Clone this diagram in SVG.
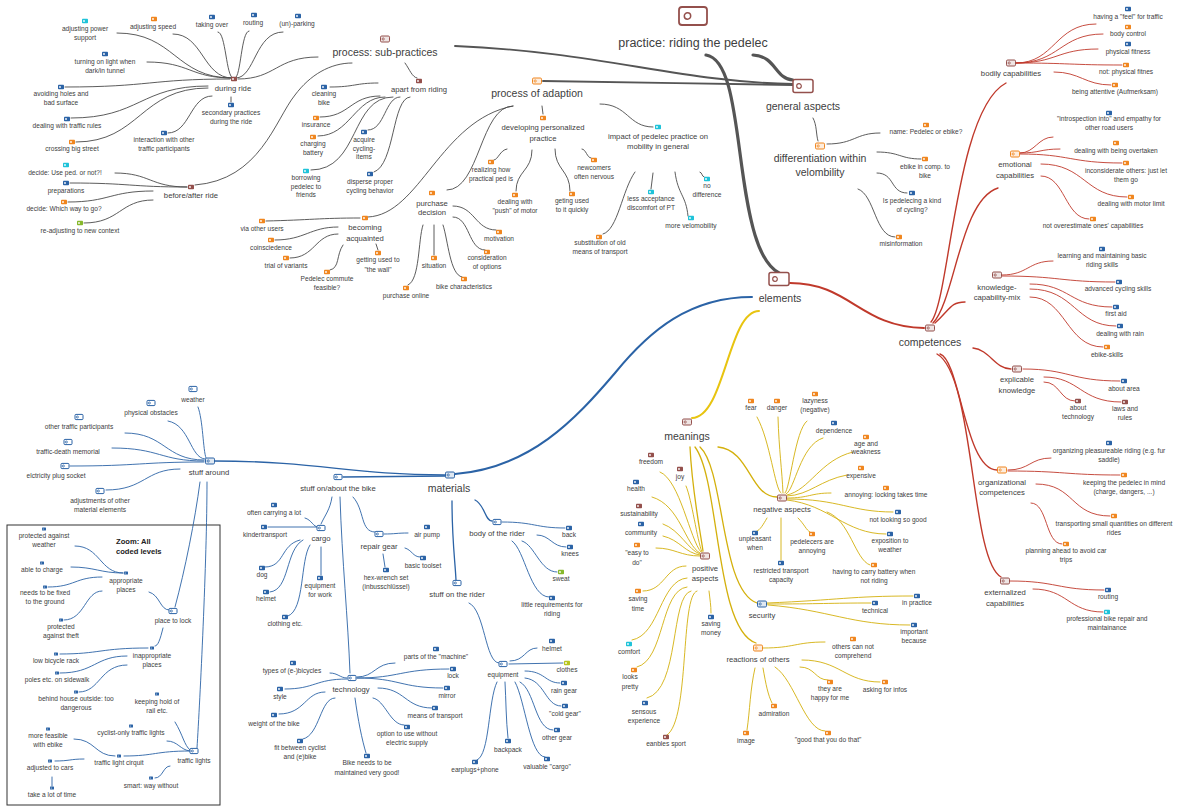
<svg xmlns="http://www.w3.org/2000/svg" width="1178" height="807" viewBox="0 0 1178 807">
<style>
text{font-family:"Liberation Sans",Arial,sans-serif;font-size:6.6px;fill:#404040;text-anchor:middle}
.m{font-size:7.7px}.h{font-size:10.5px}.t{font-size:12.5px}
.z{font-size:7.6px;font-weight:bold;text-anchor:start;fill:#222}
.B{color:#2b63a6}.O{color:#f0861f}.C{color:#1fc3d9}.G{color:#86b82c}.M{color:#94504c}.Y{color:#b8c41e}
#connectors path{fill:none;stroke-linecap:round}
.g1{stroke:#4a4a4a;stroke-width:.9}.g2{stroke:#555;stroke-width:1.9}.g3{stroke:#555;stroke-width:3.2}
.r1{stroke:#c0392b;stroke-width:.9}.r15{stroke:#c0392b;stroke-width:1.4}.r2{stroke:#c0392b;stroke-width:2}
.y1{stroke:#d4b00c;stroke-width:.9}.y15{stroke:#d4b00c;stroke-width:1.3}.y2{stroke:#e8c410;stroke-width:2}
.b1{stroke:#2b63a6;stroke-width:.9}.b15{stroke:#2b63a6;stroke-width:1.3}.b2{stroke:#2b63a6;stroke-width:2}
</style>
<defs>
<g id="i"><rect x="-3" y="-2.2" width="6" height="4.4" rx="0.8" fill="currentColor"/><rect x="-1.9" y="-0.9" width="1.8" height="1.8" rx="0.9" fill="#fff"/></g>
<g id="d"><rect x="-2" y="-1.5" width="4" height="3" rx="0.5" fill="currentColor"/><circle cx="-0.8" cy="0" r="0.5" fill="#fff"/></g>
<g id="o"><rect x="-4.5" y="-3" width="9" height="6" rx="1.2" fill="#fff"/><rect x="-4.5" y="-3" width="9" height="6" rx="1.2" fill="currentColor" fill-opacity="0.15" stroke="currentColor" stroke-width="1"/><circle cx="-1.8" cy="0" r="1.1" fill="none" stroke="currentColor" stroke-width="0.8"/></g>
<g id="p"><rect x="-4" y="-2.6" width="8" height="5.2" rx="1" fill="#fff" stroke="currentColor" stroke-width="1"/><circle cx="-1.6" cy="0" r="1" fill="none" stroke="currentColor" stroke-width="0.8"/></g>
<g id="L"><rect x="-10" y="-6.5" width="20" height="13" rx="2" fill="#fff" stroke="currentColor" stroke-width="1.5"/><circle cx="-4" cy="0" r="2.3" fill="none" stroke="currentColor" stroke-width="1.2"/></g>
<g id="T"><rect x="-14" y="-9" width="28" height="18" rx="3" fill="#fff" stroke="currentColor" stroke-width="1.8"/><circle cx="-5.5" cy="0" r="3.2" fill="none" stroke="currentColor" stroke-width="1.5"/></g>
</defs>
<rect width="1178" height="807" fill="#fff"/>
<rect x="7" y="525" width="213" height="280" fill="none" stroke="#333" stroke-width="1"/>

<g id="connectors">
<path class="g3" d="M706 55C740 60 735 170 755 235C762 258 770 268 779 273"/>
<path class="g3" d="M753 55C776 56 775 79 793 80"/>
<path class="g2" d="M455 46C600 52 680 82 793 84"/>
<path class="g2" d="M543 81C640 82 700 84 793 85"/>
<path class="g1" d="M318 57C276 57 276 79 238 79"/>
<path class="g1" d="M195 185C260 180 275 120 295 95C310 75 330 63 352 63"/>
<path class="g1" d="M405 63C410 70 412 77 417 78"/>
<path class="g1" d="M117 33C175 33 175 78 232 78"/>
<path class="g1" d="M173 34C203 34 203 78 232 78"/>
<path class="g1" d="M218 32C226 32 226 78 233 78"/>
<path class="g1" d="M249 31C241 31 241 78 235 78"/>
<path class="g1" d="M283 32C255 32 255 78 236 78"/>
<path class="g1" d="M147 62C190 62 190 78 232 78"/>
<path class="g1" d="M65 87C150 87 150 79 230 79"/>
<path class="g1" d="M71 118C140 118 140 86 208 86"/>
<path class="g1" d="M76 142C140 142 140 88 208 88"/>
<path class="g1" d="M168 133C190 133 190 96 212 96"/>
<path class="g1" d="M231 97L231 102"/>
<path class="g1" d="M115 173C150 173 150 187 187 187"/>
<path class="g1" d="M70 183C130 183 130 187 187 187"/>
<path class="g1" d="M68 202C110 202 110 191 153 191"/>
<path class="g1" d="M84 223C120 223 120 200 153 200"/>
<path class="g1" d="M330 87C355 87 355 83 378 83"/>
<path class="g1" d="M320 117C350 117 350 96 380 96"/>
<path class="g1" d="M318 136C350 136 355 97 385 97"/>
<path class="g1" d="M311 170C360 170 350 97 393 97"/>
<path class="g1" d="M368 130C385 130 385 97 400 97"/>
<path class="g1" d="M374 172C395 165 392 98 410 97"/>
<path class="g1" d="M542 106L543 114"/>
<path class="g1" d="M600 104C628 104 628 127 653 127"/>
<path class="g1" d="M447 190C480 190 480 106 513 106"/>
<path class="g1" d="M368 217C420 215 440 120 513 106"/>
<path class="g1" d="M507 149C500 150 498 160 494 160"/>
<path class="g1" d="M532 150C532 171 516 171 516 191"/>
<path class="g1" d="M555 149C555 170 570 170 570 191"/>
<path class="g1" d="M582 149C586 149 587 158 591 158"/>
<path class="g1" d="M653 173L651 189"/>
<path class="g1" d="M700 172C702 172 702 177 704 177"/>
<path class="g1" d="M675 172C678 195 686 195 688 216"/>
<path class="g1" d="M635 172C622 190 618 230 603 234"/>
<path class="g1" d="M453 206C475 206 475 230 496 230"/>
<path class="g1" d="M453 217C470 217 468 250 485 250"/>
<path class="g1" d="M434 225L434 255"/>
<path class="g1" d="M443 225C448 240 450 275 462 277"/>
<path class="g1" d="M423 225C418 240 420 280 408 285"/>
<path class="g1" d="M266 221C310 220 320 218 360 218"/>
<path class="g1" d="M275 240C305 240 310 227 338 227"/>
<path class="g1" d="M290 258C315 258 315 234 338 234"/>
<path class="g1" d="M376 244L378 250"/>
<path class="g1" d="M343 245C336 255 340 268 330 270"/>
<path class="g1" d="M813 118C817 125 816 135 818 141"/>
<path class="g1" d="M827 144C855 144 855 133 880 133"/>
<path class="g1" d="M877 152C900 152 900 159 921 159"/>
<path class="g1" d="M877 173C895 173 890 193 907 193"/>
<path class="g1" d="M858 189C875 195 875 237 895 237"/>

<path class="r2" d="M790 283C850 283 860 327 924 328"/>
<path class="r15" d="M931 322C950 300 955 110 1006 83"/>
<path class="r15" d="M933 323C955 300 960 200 998 188"/>
<path class="r15" d="M935 323C950 310 950 302 965 302"/>
<path class="r15" d="M973 348C990 350 995 369 1011 369"/>
<path class="r15" d="M940 354C960 360 965 470 997 470"/>
<path class="r15" d="M937 354C975 375 970 560 1001 577"/>
<path class="r1" d="M1016 63C1055 63 1055 24 1096 24"/>
<path class="r1" d="M1016 63C1060 63 1060 34 1103 34"/>
<path class="r1" d="M1016 63C1057 63 1057 49 1098 49"/>
<path class="r1" d="M1016 63C1070 63 1070 65 1122 65"/>
<path class="r1" d="M1054 72C1080 72 1085 85 1111 85"/>
<path class="r1" d="M1020 153C1035 153 1038 137 1053 137"/>
<path class="r1" d="M1020 153C1040 153 1040 149 1060 149"/>
<path class="r1" d="M1020 154C1070 154 1070 163 1122 163"/>
<path class="r1" d="M1041 164C1085 164 1085 197 1127 197"/>
<path class="r1" d="M1041 176C1065 176 1065 219 1089 219"/>
<path class="r1" d="M1002 275C1028 275 1028 261 1053 261"/>
<path class="r1" d="M1002 276C1060 276 1060 282 1115 282"/>
<path class="r1" d="M1030 284C1070 284 1070 307 1112 307"/>
<path class="r1" d="M1030 289C1075 289 1075 326 1116 326"/>
<path class="r1" d="M1030 297C1066 297 1066 347 1103 347"/>
<path class="r1" d="M1023 369C1070 369 1070 381 1120 381"/>
<path class="r1" d="M1044 382C1060 382 1060 401 1075 401"/>
<path class="r1" d="M1044 377C1080 377 1080 402 1121 402"/>
<path class="r1" d="M1008 470C1030 470 1030 458 1051 458"/>
<path class="r1" d="M1008 471C1065 471 1065 475 1120 475"/>
<path class="r1" d="M1036 484C1075 484 1070 516 1110 516"/>
<path class="r1" d="M1031 503C1048 503 1045 544 1062 544"/>
<path class="r1" d="M1010 581C1057 581 1057 590 1104 590"/>
<path class="r1" d="M1033 589C1068 589 1068 612 1103 612"/>

<path class="y2" d="M759 311C728 311 725 417 692 418"/>
<path class="y15" d="M690 447C692 490 700 530 703 551"/>
<path class="y15" d="M700 447C725 470 720 590 757 603"/>
<path class="y15" d="M695 447C720 480 715 630 756 643"/>
<path class="y15" d="M718 447C750 450 750 497 777 497"/>
<path class="y1" d="M660 472C680 480 690 540 701 552"/>
<path class="y1" d="M686 486C692 500 697 540 702 552"/>
<path class="y1" d="M652 497C680 505 685 545 700 553"/>
<path class="y1" d="M663 524C680 530 688 550 700 554"/>
<path class="y1" d="M663 536C680 540 685 553 700 555"/>
<path class="y1" d="M656 548C675 548 680 556 700 556"/>
<path class="y1" d="M643 591C665 591 665 566 686 566"/>
<path class="y1" d="M632 640C660 635 660 580 687 578"/>
<path class="y1" d="M637 667C665 660 660 590 687 587"/>
<path class="y1" d="M647 698C680 690 670 595 691 591"/>
<path class="y1" d="M667 735C690 720 680 595 697 591"/>
<path class="y1" d="M709 591C710 600 711 605 711 613"/>
<path class="y1" d="M757 417C770 440 775 490 781 493"/>
<path class="y1" d="M778 417C779 450 782 470 783 493"/>
<path class="y1" d="M807 421C795 430 790 490 785 493"/>
<path class="y1" d="M823 438C800 445 795 490 786 494"/>
<path class="y1" d="M853 452C820 460 810 490 787 495"/>
<path class="y1" d="M847 475C820 480 810 495 787 496"/>
<path class="y1" d="M831 493C810 493 810 498 787 498"/>
<path class="y1" d="M787 499C840 499 850 512 893 512"/>
<path class="y1" d="M787 500C830 505 845 534 886 534"/>
<path class="y1" d="M827 512C850 520 855 560 870 565"/>
<path class="y1" d="M767 518C763 525 760 530 757 531"/>
<path class="y1" d="M798 518C805 525 806 530 810 532"/>
<path class="y1" d="M781 518L781 560"/>
<path class="y1" d="M767 603C840 600 850 596 913 596"/>
<path class="y1" d="M767 604C820 604 830 603 871 603"/>
<path class="y1" d="M768 605C830 610 850 625 910 625"/>
<path class="y1" d="M763 648C795 648 795 642 825 642"/>
<path class="y1" d="M800 667C815 667 815 680 828 680"/>
<path class="y1" d="M802 660C840 660 845 682 880 682"/>
<path class="y1" d="M755 668C750 690 750 710 747 730"/>
<path class="y1" d="M763 668C766 685 768 695 772 703"/>
<path class="y1" d="M775 667C795 680 805 731 825 731"/>

<path class="b2" d="M752 297C690 297 650 330 615 373C575 420 530 468 455 474"/>
<path class="b15" d="M214 461C320 461 350 475 445 475"/>
<path class="b15" d="M445 476L343 477"/>
<path class="b15" d="M475 500C485 505 485 521 492 521"/>
<path class="b15" d="M452 501C452 540 455 560 456 580"/>
<path class="b1" d="M198 407C203 420 203 450 206 458"/>
<path class="b1" d="M168 421C190 425 190 458 205 459"/>
<path class="b1" d="M125 433C165 433 165 460 204 460"/>
<path class="b1" d="M112 448C160 448 160 461 204 461"/>
<path class="b1" d="M70 466C140 466 140 462 204 462"/>
<path class="b1" d="M106 490C145 490 145 469 180 469"/>
<path class="b1" d="M200 482C195 520 185 570 175 607"/>
<path class="b1" d="M207 482C207 560 200 700 197 748"/>
<path class="b1" d="M75 546C100 546 100 573 123 573"/>
<path class="b1" d="M71 567C95 567 100 573 123 573"/>
<path class="b1" d="M48 587C75 587 75 577 102 577"/>
<path class="b1" d="M64 620C85 620 85 591 102 591"/>
<path class="b1" d="M149 592C160 595 160 610 169 610"/>
<path class="b1" d="M163 628C160 640 158 646 155 646"/>
<path class="b1" d="M60 654C100 654 100 648 148 648"/>
<path class="b1" d="M60 673C95 673 95 656 127 656"/>
<path class="b1" d="M79 692C100 692 100 665 127 665"/>
<path class="b1" d="M175 722C183 735 184 745 190 750"/>
<path class="b1" d="M167 741C178 741 180 750 190 751"/>
<path class="b1" d="M124 756C155 756 155 751 190 751"/>
<path class="b1" d="M74 739C95 739 95 756 115 756"/>
<path class="b1" d="M55 761C70 761 70 759 84 759"/>
<path class="b1" d="M52 777L52 786"/>
<path class="b1" d="M155 778C163 778 163 766 170 766"/>
<path class="b1" d="M332 497C330 510 325 515 321 524"/>
<path class="b1" d="M353 497C365 510 360 532 375 532"/>
<path class="b1" d="M340 497C342 560 348 620 350 673"/>
<path class="b1" d="M305 518C312 520 313 527 318 527"/>
<path class="b1" d="M268 527L317 527"/>
<path class="b1" d="M300 540C280 545 285 567 265 567"/>
<path class="b1" d="M303 540C285 550 290 590 270 592"/>
<path class="b1" d="M310 545C300 560 305 610 288 616"/>
<path class="b1" d="M321 547L321 575"/>
<path class="b1" d="M384 534C396 534 396 533 408 533"/>
<path class="b1" d="M405 548C412 550 413 557 420 557"/>
<path class="b1" d="M383 554L385 567"/>
<path class="b1" d="M330 673C338 673 340 678 347 678"/>
<path class="b1" d="M285 689C315 689 315 679 347 679"/>
<path class="b1" d="M279 714C305 714 305 692 325 692"/>
<path class="b1" d="M303 739C320 735 320 698 335 698"/>
<path class="b1" d="M355 698C358 720 362 740 366 753"/>
<path class="b1" d="M373 698C385 700 390 725 404 725"/>
<path class="b1" d="M378 688C405 688 405 708 432 708"/>
<path class="b1" d="M357 678C400 678 400 688 443 688"/>
<path class="b1" d="M357 678C400 678 400 669 449 669"/>
<path class="b1" d="M357 677C375 677 375 663 395 663"/>
<path class="b1" d="M502 522C535 522 535 528 565 528"/>
<path class="b1" d="M537 535C550 535 552 547 566 547"/>
<path class="b1" d="M522 541C535 545 540 572 557 572"/>
<path class="b1" d="M512 541C525 550 530 597 549 597"/>
<path class="b1" d="M469 603C485 610 485 663 499 663"/>
<path class="b1" d="M510 661C525 661 525 648 537 648"/>
<path class="b1" d="M509 664L563 663"/>
<path class="b1" d="M525 671C545 671 545 683 560 683"/>
<path class="b1" d="M525 678C545 680 545 706 561 706"/>
<path class="b1" d="M520 682C535 690 535 730 553 730"/>
<path class="b1" d="M515 682C525 700 530 757 545 757"/>
<path class="b1" d="M505 682C506 700 506 720 508 738"/>
<path class="b1" d="M497 682C488 700 490 755 477 760"/>
</g>

<g id="nodes">
<g id="n-title"><use href="#T" class="M" x="693" y="16"/><text class="t" x="693" y="46.5">practice: riding the pedelec</text></g>
<g id="n-general"><use href="#L" class="M" x="803" y="86"/><text class="h" x="803" y="109.5">general aspects</text></g>
<g id="n-subpractices"><use href="#o" class="M" x="385" y="39"/><text class="h" x="385" y="55.5">process: sub-practices</text></g>
<g id="n-adaption"><use href="#o" class="O" x="537" y="81"/><text class="h" x="537" y="97">process of adaption</text></g>
<g id="n-diff"><use href="#o" class="O" x="820" y="146"/><text class="h" x="820" y="161.5">differentiation within<tspan x="820" dy="14">velombility</tspan></text></g>

<g id="n-during"><use href="#i" class="M" x="234" y="79"/><text class="m" x="233" y="91">during ride</text></g>
<g id="n-power"><use href="#i" class="C" x="85" y="21"/><text x="85" y="31">adjusting power<tspan x="85" dy="9">support</tspan></text></g>
<g id="n-speed"><use href="#i" class="O" x="154" y="19"/><text x="153" y="29">adjusting speed</text></g>
<g id="n-takeover"><use href="#i" class="B" x="212" y="17"/><text x="212" y="27">taking over</text></g>
<g id="n-routing1"><use href="#i" class="B" x="254" y="15"/><text x="253" y="25">routing</text></g>
<g id="n-parking"><use href="#i" class="B" x="298" y="16"/><text x="297" y="26">(un)-parking</text></g>
<g id="n-light"><use href="#i" class="B" x="105" y="54"/><text x="105" y="64">turning on light when<tspan x="105" dy="9">dark/in tunnel</tspan></text></g>
<g id="n-holes"><use href="#i" class="B" x="61" y="87"/><text x="61" y="96">avoiding holes and<tspan x="61" dy="9">bad surface</tspan></text></g>
<g id="n-rules"><use href="#i" class="B" x="67" y="119"/><text x="67" y="128">dealing with traffic rules</text></g>
<g id="n-street"><use href="#i" class="O" x="72" y="142"/><text x="72" y="151">crossing big street</text></g>
<g id="n-interaction"><use href="#i" class="B" x="164" y="133"/><text x="164" y="142">interaction with other<tspan x="164" dy="9">traffic participants</tspan></text></g>
<g id="n-secondary"><use href="#i" class="B" x="231" y="105"/><text x="231" y="115">secondary practices<tspan x="231" dy="9">during the ride</tspan></text></g>

<g id="n-before"><use href="#i" class="M" x="191" y="187"/><text class="m" x="191" y="198">before/after ride</text></g>
<g id="n-useped"><use href="#i" class="C" x="66" y="165"/><text x="65" y="175">decide: Use ped.  or not?!</text></g>
<g id="n-prep"><use href="#i" class="B" x="66" y="183"/><text x="66" y="193">preparations</text></g>
<g id="n-way"><use href="#i" class="O" x="64" y="202"/><text x="64" y="211">decide: Which way to go?</text></g>
<g id="n-readjust"><use href="#i" class="G" x="80" y="223"/><text x="80" y="233">re-adjusting to new context</text></g>

<g id="n-apart"><use href="#i" class="M" x="419" y="81"/><text class="m" x="419" y="92">apart from riding</text></g>
<g id="n-cleaning"><use href="#i" class="B" x="324" y="87"/><text x="324" y="96">cleaning<tspan x="324" dy="9">bike</tspan></text></g>
<g id="n-insurance"><use href="#i" class="O" x="316" y="118"/><text x="316" y="127">insurance</text></g>
<g id="n-charging"><use href="#i" class="O" x="313" y="137"/><text x="313" y="146">charging<tspan x="313" dy="9">battery</tspan></text></g>
<g id="n-borrow"><use href="#i" class="C" x="306" y="171"/><text x="306" y="180">borrowing<tspan x="306" dy="8.7">pedelec to</tspan><tspan x="306" dy="8.7">friends</tspan></text></g>
<g id="n-acquire"><use href="#i" class="B" x="364" y="132"/><text x="364" y="142">acquire<tspan x="364" dy="8.7">cycling-</tspan><tspan x="364" dy="8.7">items</tspan></text></g>
<g id="n-disperse"><use href="#i" class="B" x="370" y="174"/><text x="370" y="184">disperse proper<tspan x="370" dy="9">cycling behavior</tspan></text></g>

<g id="n-developing"><use href="#i" class="O" x="543" y="118"/><text class="m" x="543" y="130">developing personalized<tspan x="543" dy="10.5">practice</tspan></text></g>
<g id="n-realizing"><use href="#i" class="O" x="491" y="162"/><text x="491" y="172">realizing how<tspan x="491" dy="8.5">practical ped is</tspan></text></g>
<g id="n-push"><use href="#i" class="O" x="515" y="195"/><text x="515" y="204">dealing with<tspan x="515" dy="9">"push" of motor</tspan></text></g>
<g id="n-gettingused"><use href="#i" class="O" x="572" y="194"/><text x="572" y="203">geting used<tspan x="572" dy="9">to it quickly</tspan></text></g>
<g id="n-newcomers"><use href="#i" class="O" x="594" y="160"/><text x="594" y="170">newcomers<tspan x="594" dy="8.5">often nervous</tspan></text></g>
<g id="n-impact"><use href="#i" class="C" x="658" y="127"/><text class="m" x="658" y="138.5">impact of pedelec practice on<tspan x="658" dy="10.5">mobility in general</tspan></text></g>
<g id="n-lessacc"><use href="#i" class="C" x="651" y="192"/><text x="651" y="201">less acceptance<tspan x="651" dy="8.5">discomfort of PT</tspan></text></g>
<g id="n-nodiff"><use href="#i" class="C" x="707" y="179"/><text x="707" y="188">no<tspan x="707" dy="8.5">difference</tspan></text></g>
<g id="n-morevelo"><use href="#i" class="C" x="691" y="218"/><text x="691" y="228">more velomobility</text></g>
<g id="n-substitution"><use href="#i" class="O" x="599" y="237"/><text x="600" y="245">substitution of old<tspan x="600" dy="9">means of transport</tspan></text></g>
<g id="n-purchase"><use href="#i" class="O" x="432" y="193"/><text class="m" x="432" y="205.5">purchase<tspan x="432" dy="9.8">decision</tspan></text></g>
<g id="n-motivation"><use href="#i" class="O" x="499" y="232"/><text x="499" y="241">motivation</text></g>
<g id="n-consideration"><use href="#i" class="O" x="487" y="252"/><text x="487" y="260">consideration<tspan x="487" dy="8.5">of options</tspan></text></g>
<g id="n-situation"><use href="#i" class="O" x="434" y="258"/><text x="434" y="268">situation</text></g>
<g id="n-bikechar"><use href="#i" class="O" x="464" y="279"/><text x="464" y="289">bike characteristics</text></g>
<g id="n-online"><use href="#i" class="O" x="406" y="288"/><text x="406" y="298">purchase online</text></g>
<g id="n-acquainted"><use href="#i" class="O" x="365" y="218"/><text class="m" x="365" y="230">becoming<tspan x="365" dy="10.5">acquainted</tspan></text></g>
<g id="n-viausers"><use href="#i" class="O" x="262" y="221"/><text x="262" y="231">via other users</text></g>
<g id="n-coinc"><use href="#i" class="O" x="271" y="240"/><text x="271" y="250">coinsciedence</text></g>
<g id="n-trial"><use href="#i" class="O" x="286" y="258"/><text x="286" y="268">trial of variants</text></g>
<g id="n-wall"><use href="#i" class="O" x="378" y="253"/><text x="378" y="262">getting used to<tspan x="378" dy="10">"the wall"</tspan></text></g>
<g id="n-commute"><use href="#i" class="O" x="327" y="272"/><text x="327" y="281">Pedelec commute<tspan x="327" dy="8.5">feasible?</tspan></text></g>

<g id="n-name"><use href="#i" class="O" x="926" y="125"/><text x="926" y="134">name: Pedelec or ebike?</text></g>
<g id="n-ebikecomp"><use href="#i" class="O" x="925" y="159"/><text x="925" y="169">ebike in comp. to<tspan x="925" dy="8.5">bike</tspan></text></g>
<g id="n-kindof"><use href="#i" class="B" x="912" y="193"/><text x="912" y="203">Is pedelecing a kind<tspan x="912" dy="9">of cycling?</tspan></text></g>
<g id="n-misinfo"><use href="#i" class="O" x="899" y="237"/><text x="901" y="246">misinformation</text></g>

<g id="n-competences"><use href="#o" class="M" x="930" y="328"/><text class="h" x="930" y="345.5">competences</text></g>
<g id="n-bodily"><use href="#o" class="M" x="1011" y="63"/><text class="m" x="1011" y="76">bodily capabilities</text></g>
<g id="n-feel"><use href="#i" class="B" x="1128" y="9"/><text x="1128" y="19">having a "feel" for traffic</text></g>
<g id="n-bodycontrol"><use href="#i" class="O" x="1128" y="27"/><text x="1128" y="36">body control</text></g>
<g id="n-fitness"><use href="#i" class="B" x="1128" y="44"/><text x="1128" y="54">physical fitness</text></g>
<g id="n-notfit"><use href="#i" class="O" x="1126" y="65"/><text x="1126" y="74">not: physical fitnes</text></g>
<g id="n-attentive"><use href="#i" class="O" x="1115" y="85"/><text x="1115" y="94">being attentive (Aufmerksam)</text></g>
<g id="n-emotional"><use href="#o" class="O" x="1015" y="154"/><text class="m" x="1015" y="167">emotional<tspan x="1015" dy="11">capabilities</tspan></text></g>
<g id="n-introspection"><use href="#i" class="B" x="1109" y="113"/><text x="1109" y="121">"introspection into" and empathy for<tspan x="1109" dy="9">other road users</tspan></text></g>
<g id="n-overtaken"><use href="#i" class="O" x="1116" y="143"/><text x="1116" y="153">dealing with being overtaken</text></g>
<g id="n-inconsiderate"><use href="#i" class="O" x="1126" y="163"/><text x="1126" y="173">inconsiderate others: just let<tspan x="1126" dy="9">them go</tspan></text></g>
<g id="n-motorlimit"><use href="#i" class="O" x="1131" y="197"/><text x="1131" y="206">dealing with motor limit</text></g>
<g id="n-overestimate"><use href="#i" class="O" x="1093" y="219"/><text x="1093" y="228">not overestimate ones' capabilities</text></g>
<g id="n-kcm"><use href="#o" class="M" x="997" y="275"/><text class="m" x="997" y="290">knowledge-<tspan x="997" dy="10">capability-mix</tspan></text></g>
<g id="n-basic"><use href="#i" class="B" x="1102" y="249"/><text x="1102" y="258">learning and maintaining basic<tspan x="1102" dy="9">riding skills</tspan></text></g>
<g id="n-advanced"><use href="#i" class="B" x="1119" y="282"/><text x="1118" y="291">advanced cycling skills</text></g>
<g id="n-firstaid"><use href="#i" class="B" x="1116" y="307"/><text x="1116" y="316">first aid</text></g>
<g id="n-rain"><use href="#i" class="B" x="1120" y="326"/><text x="1120" y="336">dealing with rain</text></g>
<g id="n-ebikeskills"><use href="#i" class="O" x="1107" y="347"/><text x="1107" y="357">ebike-skills</text></g>
<g id="n-explicable"><use href="#o" class="M" x="1017" y="369"/><text class="m" x="1017" y="382">explicable<tspan x="1017" dy="11">knowledge</tspan></text></g>
<g id="n-area"><use href="#i" class="B" x="1124" y="381"/><text x="1124" y="391">about area</text></g>
<g id="n-abouttech"><use href="#i" class="M" x="1078" y="401"/><text x="1078" y="410">about<tspan x="1078" dy="9">technology</tspan></text></g>
<g id="n-laws"><use href="#i" class="M" x="1125" y="402"/><text x="1125" y="411">laws and<tspan x="1125" dy="9">rules</tspan></text></g>
<g id="n-organizational"><use href="#o" class="O" x="1002" y="470"/><text class="m" x="1002" y="485">organizational<tspan x="1002" dy="10">competences</tspan></text></g>
<g id="n-pleasure"><use href="#i" class="B" x="1109" y="443"/><text x="1109" y="453">organizing pleasureable riding (e.g. fur<tspan x="1109" dy="8.5">saddle)</tspan></text></g>
<g id="n-keeping"><use href="#i" class="O" x="1124" y="475"/><text x="1124" y="485">keeping the pedelec in mind<tspan x="1124" dy="9">(charge, dangers, ...)</tspan></text></g>
<g id="n-transporting"><use href="#i" class="O" x="1114" y="516"/><text x="1114" y="526">transporting small quantities on different<tspan x="1114" dy="9">rides</tspan></text></g>
<g id="n-planning"><use href="#i" class="O" x="1066" y="544"/><text x="1066" y="553">planning ahead to avoid car<tspan x="1066" dy="9">trips</tspan></text></g>
<g id="n-externalized"><use href="#o" class="M" x="1005" y="581"/><text class="m" x="1005" y="595">externalized<tspan x="1005" dy="11">capabilities</tspan></text></g>
<g id="n-routing2"><use href="#i" class="B" x="1108" y="590"/><text x="1108" y="599">routing</text></g>
<g id="n-repair"><use href="#i" class="C" x="1107" y="612"/><text x="1107" y="621">professional bike repair and<tspan x="1107" dy="9">maintainance</tspan></text></g>

<g id="n-elements"><use href="#L" class="M" x="779" y="279"/><text class="h" x="780" y="301.5">elements</text></g>
<g id="n-meanings"><use href="#o" class="M" x="687" y="422"/><text class="h" x="687" y="439.5">meanings</text></g>
<g id="n-positive"><use href="#o" class="M" x="705" y="556"/><text class="m" x="705" y="570.5">positive<tspan x="705" dy="10.5">aspects</tspan></text></g>
<g id="n-freedom"><use href="#i" class="M" x="651" y="455"/><text x="651" y="464">freedom</text></g>
<g id="n-joy"><use href="#i" class="M" x="680" y="469"/><text x="680" y="479">joy</text></g>
<g id="n-health"><use href="#i" class="B" x="636" y="482"/><text x="636" y="491">health</text></g>
<g id="n-sustain"><use href="#i" class="M" x="639" y="506"/><text x="639" y="516">sustainability</text></g>
<g id="n-community"><use href="#i" class="B" x="641" y="524"/><text x="641" y="535">community</text></g>
<g id="n-easy"><use href="#i" class="O" x="637" y="545"/><text x="637" y="555">"easy to<tspan x="637" dy="10">do"</tspan></text></g>
<g id="n-savetime"><use href="#i" class="O" x="638" y="591"/><text x="638" y="601">saving<tspan x="638" dy="10">time</tspan></text></g>
<g id="n-comfort"><use href="#i" class="C" x="629" y="644"/><text x="629" y="654">comfort</text></g>
<g id="n-pretty"><use href="#i" class="O" x="634" y="670"/><text x="630" y="679">looks<tspan x="630" dy="10">pretty</tspan></text></g>
<g id="n-sensous"><use href="#i" class="B" x="645" y="703"/><text x="644" y="714">sensous<tspan x="644" dy="9">experience</tspan></text></g>
<g id="n-sport"><use href="#i" class="M" x="666" y="737"/><text x="666" y="746">eanbles sport</text></g>
<g id="n-money"><use href="#i" class="B" x="711" y="617"/><text x="711" y="626">saving<tspan x="711" dy="9">money</tspan></text></g>
<g id="n-negative"><use href="#o" class="M" x="782" y="498"/><text class="m" x="782" y="511.5">negative aspects</text></g>
<g id="n-fear"><use href="#i" class="O" x="751" y="401"/><text x="751" y="410">fear</text></g>
<g id="n-danger"><use href="#i" class="O" x="777" y="401"/><text x="777" y="410">danger</text></g>
<g id="n-lazy"><use href="#i" class="O" x="815" y="394"/><text x="815" y="403">lazyness<tspan x="815" dy="9">(negative)</tspan></text></g>
<g id="n-dependence"><use href="#i" class="B" x="834" y="423"/><text x="834" y="433">dependence</text></g>
<g id="n-age"><use href="#i" class="O" x="866" y="437"/><text x="866" y="446">age and<tspan x="866" dy="8">weakness</tspan></text></g>
<g id="n-expensive"><use href="#i" class="O" x="861" y="468"/><text x="861" y="478">expensive</text></g>
<g id="n-locking"><use href="#i" class="O" x="886" y="488"/><text x="886" y="497">annoying: locking takes time</text></g>
<g id="n-looking"><use href="#i" class="B" x="898" y="512"/><text x="898" y="522">not looking so good</text></g>
<g id="n-exposition"><use href="#i" class="B" x="890" y="534"/><text x="890" y="543">exposition to<tspan x="890" dy="9">weather</tspan></text></g>
<g id="n-battery"><use href="#i" class="O" x="874" y="565"/><text x="874" y="574">having to carry battery when<tspan x="874" dy="9">not riding</tspan></text></g>
<g id="n-unpleasant"><use href="#i" class="B" x="755" y="533"/><text x="755" y="541">unpleasant<tspan x="755" dy="9">when</tspan></text></g>
<g id="n-pedelecers"><use href="#i" class="O" x="812" y="534"/><text x="812" y="544">pedelecers are<tspan x="812" dy="9">annoying</tspan></text></g>
<g id="n-restricted"><use href="#i" class="B" x="781" y="563"/><text x="781" y="573">restricted transport<tspan x="781" dy="9">capacity</tspan></text></g>
<g id="n-security"><use href="#o" class="B" x="762" y="604"/><text class="m" x="762" y="618">security</text></g>
<g id="n-inpractice"><use href="#i" class="B" x="917" y="596"/><text x="917" y="605">in practice</text></g>
<g id="n-technical"><use href="#i" class="B" x="875" y="603"/><text x="875" y="613">technical</text></g>
<g id="n-important"><use href="#i" class="B" x="914" y="625"/><text x="914" y="634">important<tspan x="914" dy="9">because</tspan></text></g>
<g id="n-reactions"><use href="#o" class="O" x="758" y="648"/><text class="m" x="758" y="662">reactions of others</text></g>
<g id="n-comprehend"><use href="#i" class="O" x="853" y="639"/><text x="853" y="649">others can not<tspan x="853" dy="9">comprehend</tspan></text></g>
<g id="n-happy"><use href="#i" class="O" x="830" y="682"/><text x="830" y="691">they are<tspan x="830" dy="9">happy for me</tspan></text></g>
<g id="n-asking"><use href="#i" class="O" x="885" y="682"/><text x="885" y="692">asking for infos</text></g>
<g id="n-image"><use href="#i" class="O" x="746" y="733"/><text x="746" y="743">image</text></g>
<g id="n-admiration"><use href="#i" class="O" x="774" y="706"/><text x="774" y="716">admiration</text></g>
<g id="n-goodthat"><use href="#i" class="O" x="828" y="733"/><text x="828" y="742">"good that you do that"</text></g>

<g id="n-materials"><use href="#o" class="B" x="450" y="475"/><text class="h" x="449" y="491.5">materials</text></g>
<g id="n-around"><use href="#o" class="B" x="210" y="461"/><text class="m" x="209" y="475">stuff around</text></g>
<g id="n-weather"><use href="#p" class="B" x="193" y="389"/><text x="193" y="402">weather</text></g>
<g id="n-obstacles"><use href="#p" class="B" x="151" y="403"/><text x="151" y="415">physical obstacles</text></g>
<g id="n-othertraffic"><use href="#p" class="B" x="79" y="417"/><text x="79" y="429">other traffic participants</text></g>
<g id="n-memorial"><use href="#p" class="B" x="68" y="442"/><text x="68" y="454">traffic-death memorial</text></g>
<g id="n-socket"><use href="#p" class="B" x="65" y="466"/><text x="56" y="478">elctricity plug socket</text></g>
<g id="n-adjustments"><use href="#p" class="B" x="100" y="491"/><text x="100" y="503">adjustments of other<tspan x="100" dy="8.5">material elements</tspan></text></g>

<g id="n-zoom"><text class="z" x="116" y="543.5">Zoom: All<tspan x="116" dy="10.5">coded levels</tspan></text></g>
<g id="n-protweather"><use href="#d" class="B" x="44" y="529"/><text x="44" y="538">protected against<tspan x="44" dy="9">weather</tspan></text></g>
<g id="n-appropriate"><use href="#d" class="B" x="126" y="573"/><text x="126" y="583">appropriate<tspan x="126" dy="9">places</tspan></text></g>
<g id="n-charge"><use href="#d" class="B" x="42" y="563"/><text x="42" y="572">able to charge</text></g>
<g id="n-fixed"><use href="#d" class="B" x="45" y="587"/><text x="45" y="595">needs to be fixed<tspan x="45" dy="9">to the ground</tspan></text></g>
<g id="n-theft"><use href="#d" class="B" x="61" y="620"/><text x="61" y="629">protected<tspan x="61" dy="9">against theft</tspan></text></g>
<g id="n-lockplace"><use href="#p" class="B" x="173" y="611"/><text x="173" y="623">place to lock</text></g>
<g id="n-inappropriate"><use href="#d" class="B" x="152" y="648"/><text x="152" y="658">inappropriate<tspan x="152" dy="9">places</tspan></text></g>
<g id="n-rack"><use href="#d" class="B" x="56" y="654"/><text x="56" y="663">low bicycle rack</text></g>
<g id="n-poles"><use href="#d" class="B" x="57" y="673"/><text x="57" y="682">poles etc. on sidewalk</text></g>
<g id="n-behind"><use href="#d" class="B" x="76" y="692"/><text x="76" y="701">behind house outside: too<tspan x="76" dy="9">dangerous</tspan></text></g>
<g id="n-rail"><use href="#d" class="B" x="157" y="694"/><text x="157" y="704">keeping hold of<tspan x="157" dy="9">rail etc.</tspan></text></g>
<g id="n-cyclistonly"><use href="#d" class="B" x="131" y="726"/><text x="131" y="735">cyclist-only traffic lights</text></g>
<g id="n-trafficlights"><use href="#p" class="B" x="194" y="751"/><text x="194" y="763">traffic lights</text></g>
<g id="n-cirquit"><use href="#d" class="B" x="119" y="756"/><text x="119" y="765">traffic light cirquit</text></g>
<g id="n-feasible"><use href="#d" class="B" x="48" y="729"/><text x="48" y="738">more feasible<tspan x="48" dy="8.5">with ebike</tspan></text></g>
<g id="n-cars"><use href="#d" class="B" x="50" y="761"/><text x="50" y="770">adjusted to cars</text></g>
<g id="n-lotoftime"><use href="#d" class="B" x="52" y="788"/><text x="52" y="797">take a lot of time</text></g>
<g id="n-smart"><use href="#d" class="B" x="151" y="778"/><text x="151" y="788">smart: way without</text></g>

<g id="n-onabout"><use href="#p" class="B" x="338" y="477"/><text class="m" x="338" y="490.5">stuff on/about the bike</text></g>
<g id="n-often"><use href="#i" class="B" x="274" y="505"/><text x="274" y="515">often carrying a lot</text></g>
<g id="n-kinder"><use href="#i" class="B" x="264" y="527"/><text x="265" y="537">kindertransport</text></g>
<g id="n-cargo"><use href="#p" class="B" x="321" y="528"/><text class="m" x="321" y="540.5">cargo</text></g>
<g id="n-dog"><use href="#i" class="B" x="262" y="568"/><text x="262" y="576.5">dog</text></g>
<g id="n-helmet1"><use href="#i" class="B" x="266" y="592"/><text x="266" y="601">helmet</text></g>
<g id="n-clothing"><use href="#i" class="B" x="285" y="617"/><text x="285" y="625.5">clothing etc.</text></g>
<g id="n-work"><use href="#i" class="B" x="320" y="578"/><text x="320" y="588">equipment<tspan x="320" dy="8.5">for work</tspan></text></g>
<g id="n-repairgear"><use href="#p" class="B" x="379" y="534"/><text class="m" x="379" y="548.5">repair gear</text></g>
<g id="n-airpump"><use href="#i" class="B" x="427" y="527"/><text x="427" y="537">air pump</text></g>
<g id="n-toolset"><use href="#i" class="B" x="423" y="558"/><text x="423" y="568">basic toolset</text></g>
<g id="n-hex"><use href="#i" class="B" x="386" y="570"/><text x="386" y="580">hex-wrench set<tspan x="386" dy="9">(inbusschlüssel)</tspan></text></g>
<g id="n-technology"><use href="#p" class="B" x="352" y="678"/><text class="m" x="351" y="691.5">technology</text></g>
<g id="n-types"><use href="#i" class="B" x="293" y="663"/><text x="292" y="673">types of (e-)bicycles</text></g>
<g id="n-style"><use href="#i" class="B" x="280" y="689"/><text x="280" y="699">style</text></g>
<g id="n-weight"><use href="#i" class="B" x="274" y="715"/><text x="274" y="726">weight of the bike</text></g>
<g id="n-fit"><use href="#i" class="B" x="300" y="741"/><text x="300" y="750">fit between cyclist<tspan x="300" dy="9">and (e)bike</tspan></text></g>
<g id="n-maintained"><use href="#i" class="B" x="367" y="756"/><text x="367" y="765">Bike needs to be<tspan x="367" dy="9.5">maintained very good!</tspan></text></g>
<g id="n-option"><use href="#i" class="B" x="407" y="727"/><text x="407" y="736">option to use without<tspan x="407" dy="9">electric supply</tspan></text></g>
<g id="n-means"><use href="#i" class="B" x="435" y="708"/><text x="435" y="718">means of transport</text></g>
<g id="n-mirror"><use href="#i" class="B" x="447" y="688"/><text x="447" y="698">mirror</text></g>
<g id="n-lock"><use href="#i" class="B" x="453" y="669"/><text x="453" y="678">lock</text></g>
<g id="n-parts"><use href="#i" class="B" x="436" y="649"/><text x="436" y="659">parts of the "machine"</text></g>
<g id="n-body"><use href="#p" class="B" x="497" y="522"/><text class="m" x="497" y="535.5">body of the rider</text></g>
<g id="n-back"><use href="#i" class="B" x="569" y="528"/><text x="569" y="536.5">back</text></g>
<g id="n-knees"><use href="#i" class="B" x="570" y="547"/><text x="570" y="556">knees</text></g>
<g id="n-sweat"><use href="#i" class="G" x="561" y="572"/><text x="561" y="580.5">sweat</text></g>
<g id="n-little"><use href="#i" class="B" x="552" y="598"/><text x="552" y="606.5">little requirements for<tspan x="552" dy="9">riding</tspan></text></g>
<g id="n-onrider"><use href="#p" class="B" x="457" y="583"/><text class="m" x="457" y="597">stuff on the rider</text></g>
<g id="n-equipment"><use href="#p" class="B" x="503" y="664"/><text x="503" y="676.5">equipment</text></g>
<g id="n-helmet2"><use href="#i" class="B" x="552" y="641"/><text x="552" y="650.5">helmet</text></g>
<g id="n-clothes"><use href="#i" class="Y" x="567" y="663"/><text x="567" y="671.5">clothes</text></g>
<g id="n-raingear"><use href="#i" class="B" x="564" y="683"/><text x="564" y="693">rain gear</text></g>
<g id="n-coldgear"><use href="#i" class="B" x="565" y="706"/><text x="565" y="715.5">"cold gear"</text></g>
<g id="n-othergear"><use href="#i" class="B" x="557" y="730"/><text x="557" y="740">other gear</text></g>
<g id="n-valuable"><use href="#i" class="B" x="547" y="759"/><text x="547" y="769">valuable "cargo"</text></g>
<g id="n-backpack"><use href="#i" class="B" x="508" y="741"/><text x="508" y="751.5">backpack</text></g>
<g id="n-earplugs"><use href="#i" class="B" x="475" y="762"/><text x="475" y="771.5">earplugs+phone</text></g>
</g>
</svg>
